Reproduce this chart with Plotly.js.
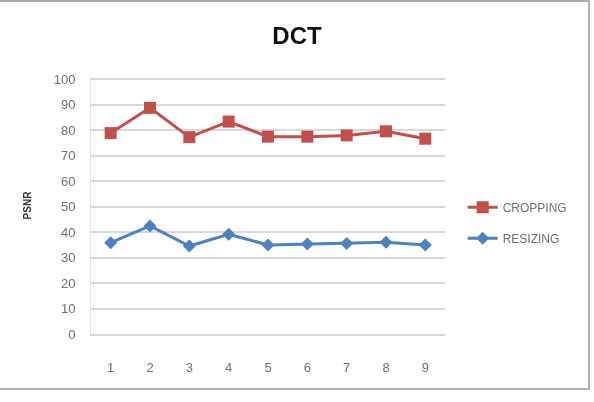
<!DOCTYPE html>
<html>
<head>
<meta charset="utf-8">
<script src="https://cdn.plot.ly/plotly-3.0.1.min.js"></script>
<style>
  html, body { margin: 0; padding: 0; background: #ffffff; }
  #frame {
    position: absolute; left: -3px; top: 0; width: 593px; height: 390px;
    border: 2px solid #b0b0b0; box-sizing: border-box; pointer-events: none; z-index: 5;
  }
  #chart { width: 594px; height: 402px; filter: blur(0.5px); }
</style>
</head>
<body>
<div id="frame"></div>
<div id="chart"></div>
<script>
// Image index on the x axis
const samples = ['1', '2', '3', '4', '5', '6', '7', '8', '9'];
// PSNR after cropping attack
const cropping = [78.8, 88.7, 77.2, 83.3, 77.4, 77.4, 77.9, 79.5, 76.6];
// PSNR after resizing attack
const resizing = [35.8, 42.4, 34.5, 39.1, 34.9, 35.3, 35.5, 36.0, 34.9];
const yTicks = [0, 10, 20, 30, 40, 50, 60, 70, 80, 90, 100];

const traces = [
  {
    x: samples, y: cropping, name: 'CROPPING', type: 'scatter', mode: 'lines+markers',
    line: { color: '#c0504d', width: 3 },
    marker: { symbol: 'square', size: 12, color: '#c0504d' },
    legendgroup: 'a'
  },
  {
    x: samples, y: resizing, name: 'RESIZING', type: 'scatter', mode: 'lines+markers',
    line: { color: '#4f81bd', width: 3 },
    marker: { symbol: 'diamond', size: 10, color: '#4f81bd' },
    legendgroup: 'b'
  }
];

const layout = {
  width: 594, height: 402,
  margin: { l: 91, r: 149, t: 77, b: 68 },
  paper_bgcolor: '#ffffff', plot_bgcolor: '#ffffff',
  font: { family: 'Liberation Sans, Arial, sans-serif', color: '#595959', size: 12 },
  title: {
    text: '<b>DCT</b>', xref: 'container', x: 0.5, yref: 'container', y: 0.912, yanchor: 'middle',
    font: { family: 'Liberation Sans, Arial, sans-serif', size: 24, color: '#111111' }
  },
  xaxis: {
    type: 'category', range: [-0.5, 8.5], showgrid: false, zeroline: false,
    showline: true, linecolor: '#d9d9d9', linewidth: 2,
    ticks: '', ticklabelstandoff: 20, tickfont: { size: 13, color: '#707070' }
  },
  yaxis: {
    range: [0, 100.8], tickvals: yTicks, showgrid: true, gridcolor: '#d9d9d9', gridwidth: 2,
    zeroline: false, showline: true, linecolor: '#e4e4e4', linewidth: 1,
    ticks: '', ticklabelstandoff: 12,
    tickfont: { size: 13, color: '#707070' },
    title: { text: '<b>PSNR</b>', standoff: 20, font: { size: 10, color: '#333333' } }
  },
  legend: {
    x: 1.05, xanchor: 'left', y: 0.55, yanchor: 'top',
    font: { size: 12, color: '#707070' }, tracegroupgap: 12, itemwidth: 30
  },
  showlegend: true
};

Plotly.newPlot('chart', traces, layout, { displayModeBar: false, staticPlot: true });
</script>
</body>
</html>
